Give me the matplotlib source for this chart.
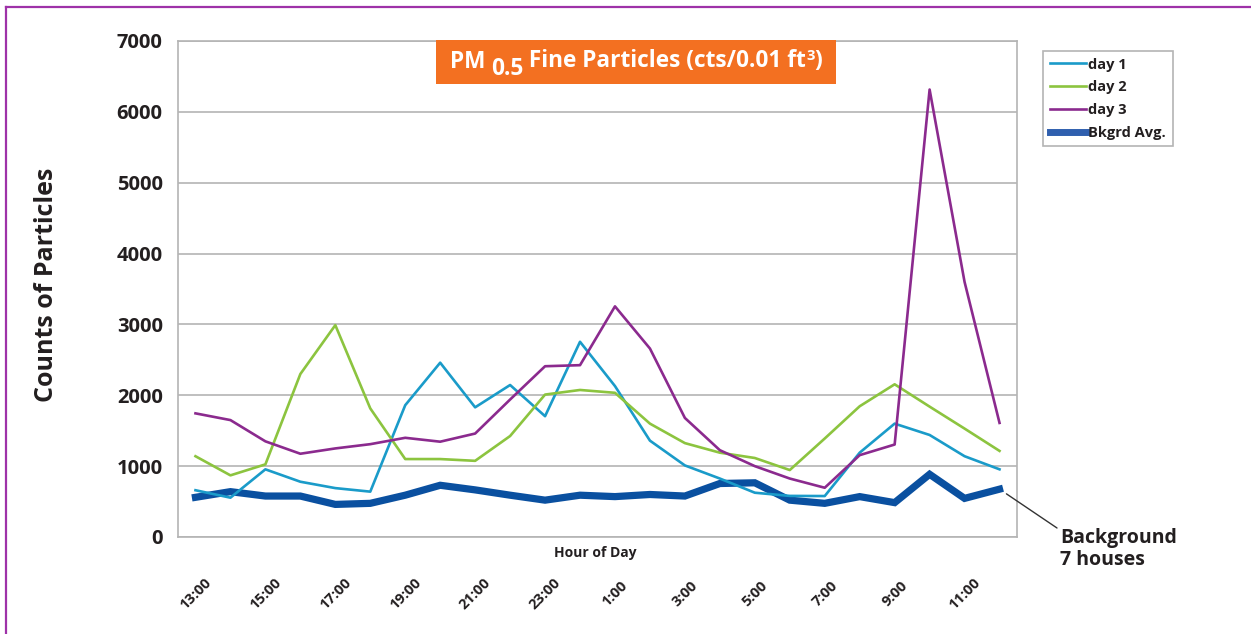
import matplotlib
matplotlib.use("Agg")
import matplotlib.pyplot as plt
from matplotlib.patches import Rectangle
from matplotlib.lines import Line2D

plt.rcParams['font.family'] = ['Open Sans', 'DejaVu Sans']

hours = ["13:00", "14:00", "15:00", "16:00", "17:00", "18:00", "19:00", "20:00",
         "21:00", "22:00", "23:00", "0:00", "1:00", "2:00", "3:00", "4:00",
         "5:00", "6:00", "7:00", "8:00", "9:00", "10:00", "11:00", "12:00"]
day1 = [660, 555, 955, 780, 690, 640, 1860, 2460, 1830, 2145, 1705, 2755,
        2130, 1360, 1010, 825, 625, 580, 578, 1190, 1600, 1440, 1140, 955]
day2 = [1140, 870, 1025, 2300, 2990, 1815, 1100, 1100, 1075, 1425, 2010, 2075,
        2035, 1600, 1325, 1190, 1115, 945, 1390, 1845, 2155, 1840, 1530, 1215]
day3 = [1745, 1650, 1350, 1175, 1250, 1310, 1400, 1345, 1460, 1940, 2410, 2425,
        3255, 2660, 1680, 1225, 1000, 825, 695, 1155, 1305, 6315, 3600, 1610]
bkgrd = [560, 640, 578, 578, 460, 475, 590, 730, 665, 590, 520, 590,
         570, 600, 578, 755, 765, 520, 475, 570, 485, 885, 545, 675]
tick_labels = hours[::2]
series_names = ["day 1", "day 2", "day 3", "Bkgrd Avg."]

W, H = 1251, 634
fig = plt.figure(figsize=(W / 100, H / 100), dpi=100)
ax = fig.add_axes([178 / W, (H - 537) / H, (1017 - 178) / W, (537 - 41) / H])

x = list(range(len(hours)))
c1, c2, c3, cb = "#1a9bc9", "#8cc43f", "#8b2a8e", "#0a50a0"
ax.plot(x, bkgrd, color=cb, lw=5.2, solid_joinstyle='miter', zorder=3)
ax.plot(x, day1, color=c1, lw=1.9, zorder=4)
ax.plot(x, day2, color=c2, lw=1.9, zorder=4)
ax.plot(x, day3, color=c3, lw=1.9, zorder=4)

ax.set_xlim(-0.5, len(hours) - 0.5)
ax.set_ylim(0, 7000)
ax.set_yticks(range(0, 7001, 1000))
ax.set_yticklabels([str(v) for v in range(0, 7001, 1000)], fontsize=14.5,
                   fontweight='bold', color='#231f20')
ax.set_xticks(x[::2])
ax.set_xticklabels(tick_labels, rotation=45, ha='center', va='center',
                   rotation_mode='anchor',
                   fontsize=10.5, fontweight='bold', color='#231f20')
ax.tick_params(axis='y', length=0, pad=11)
ax.tick_params(axis='x', length=0, pad=41)
ax.grid(axis='y', color='#b4b4b4', lw=1.2)
ax.set_axisbelow(True)
for s in ax.spines.values():
    s.set_color('#b4b4b4')
    s.set_linewidth(1.2)

fig.text(47 / W, (H - 285) / H, "Counts of Particles", rotation=90,
         ha='center', va='center', fontsize=18, fontweight='bold', color='#231f20')
fig.text(595 / W, (H - 553) / H, "Hour of Day", ha='center', va='center',
         fontsize=10, fontweight='bold', color='#231f20')

# title box
fig.patches.append(Rectangle((436 / W, (H - 84) / H), 400 / W, 44 / H,
                             transform=fig.transFigure, facecolor='#f37021',
                             edgecolor='none', zorder=5))
renderer = fig.canvas.get_renderer()
tsize = 16.3
pieces = [("PM ", 0, tsize), ("0.5", -7.5, tsize), (" Fine Particles (cts/0.01 ft", 0, tsize),
          ("3", 8, tsize * 0.65), (")", 0, tsize)]
texts = []
for s, dy, fs in pieces:
    t = fig.text(0, 0, s, fontsize=fs, fontweight='bold', color='white',
                 ha='left', va='baseline', zorder=6)
    texts.append((t, dy))
widths = [t.get_window_extent(renderer).width for t, _ in texts]
total = sum(widths)
xpix = 636 - total / 2
base = H - 67.5
for (t, dy), w in zip(texts, widths):
    t.set_position((xpix / W, (base + dy) / H))
    xpix += w

# legend
handles = [Line2D([], [], color=c1, lw=1.9), Line2D([], [], color=c2, lw=1.9),
           Line2D([], [], color=c3, lw=1.9), Line2D([], [], color="#2f5fae", lw=5)]
leg = fig.legend(handles, series_names, loc='upper left',
                 bbox_to_anchor=(1043 / W, (H - 51) / H),
                 bbox_transform=fig.transFigure, fancybox=False,
                 edgecolor='#b4b4b4', framealpha=1, handlelength=2.5,
                 handletextpad=0.15, labelspacing=0.6, borderpad=0.45,
                 borderaxespad=0,
                 prop={'weight': 'bold', 'size': 10.5})
leg.get_frame().set_linewidth(1.2)
for t in leg.get_texts():
    t.set_color('#231f20')

# annotation
ax.annotate("", xy=(x[-1], bkgrd[-1]), xycoords='data',
            xytext=(1057, H - 528), textcoords='figure pixels',
            arrowprops=dict(arrowstyle='-', color='#333333', lw=1.0,
                            shrinkA=0, shrinkB=6))
fig.text(1060 / W, (H - 549) / H, "Background\n7 houses", ha='left', va='center',
         fontsize=14, fontweight='bold', color='#231f20', linespacing=1.1)

# figure border (purple, left and top)
fig.lines.append(Line2D([6 / W, 6 / W], [0, (H - 7) / H], transform=fig.transFigure,
                        color='#9e32a8', lw=1.6))
fig.lines.append(Line2D([6 / W, 1], [(H - 7) / H, (H - 7) / H], transform=fig.transFigure,
                        color='#9e32a8', lw=1.6))

fig.savefig("out.png", dpi=100, facecolor='white')
